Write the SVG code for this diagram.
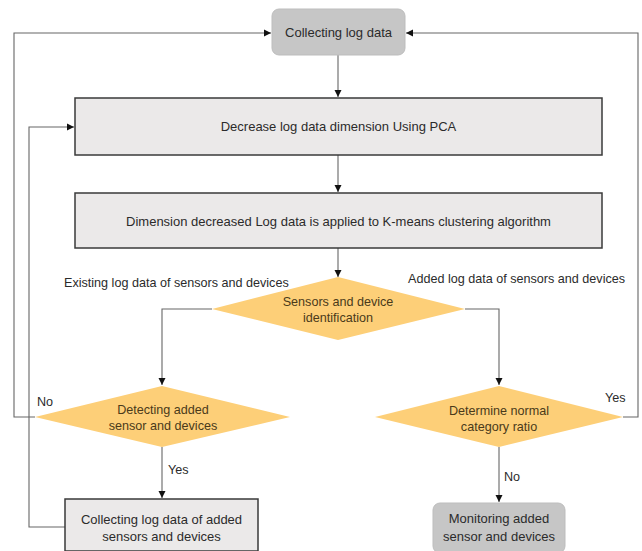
<svg xmlns="http://www.w3.org/2000/svg" width="642" height="551" viewBox="0 0 642 551">
<defs>
<marker id="arr" markerWidth="8" markerHeight="8" refX="7" refY="4" orient="auto" markerUnits="userSpaceOnUse">
<path d="M0,0.5 L7,4 L0,7.5 Z" fill="#111"/>
</marker>
<style>
text{font-family:"Liberation Sans",Arial,sans-serif;font-size:13px;fill:#2b2b2b;text-anchor:middle}
.lbl{text-anchor:start;font-size:12.6px}
.box{fill:#ebe9e9;stroke:#3a3a3a;stroke-width:1.5}
.gbox{fill:#c6c6c6;stroke:#bdbdbd;stroke-width:1}
.dia{fill:#fdcf78;stroke:none}
.dt{fill:#4a3a1a;font-size:12.6px}
.con{fill:none;stroke:#666;stroke-width:1.1}
</style>
</defs>
<rect width="642" height="551" fill="#ffffff"/>
<g id="connectors">
<path class="con" d="M338,55 V97" marker-end="url(#arr)"/>
<path class="con" d="M338,155 V192" marker-end="url(#arr)"/>
<path class="con" d="M338,248 V277" marker-end="url(#arr)"/>
<path class="con" d="M212,309 H162 V385" marker-end="url(#arr)"/>
<path class="con" d="M465,309 H499 V385" marker-end="url(#arr)"/>
<path class="con" d="M162,447 V498" marker-end="url(#arr)"/>
<path class="con" d="M499,447 V502" marker-end="url(#arr)"/>
<path class="con" d="M35,417 H14 V33 H271" marker-end="url(#arr)"/>
<path class="con" d="M623,417 H638 V33 H406" marker-end="url(#arr)"/>
<path class="con" d="M65,527 H29 V127 H74" marker-end="url(#arr)"/>
</g>
<g id="collect">
<rect class="gbox" x="272" y="9" width="133" height="46" rx="7"/>
<text x="338.5" y="37">Collecting log data</text>
</g>
<g id="pca">
<rect class="box" x="75" y="98" width="527" height="57"/>
<text x="338.5" y="131">Decrease log data dimension Using PCA</text>
</g>
<g id="kmeans">
<rect class="box" x="75" y="193" width="527" height="55"/>
<text x="338.5" y="226">Dimension decreased Log data is applied to K-means clustering algorithm</text>
</g>
<g id="identify">
<polygon class="dia" points="338,277 465,309 338,340 212,309"/>
<text class="dt" x="338" y="306">Sensors and device</text>
<text class="dt" x="338" y="322">identification</text>
</g>
<g id="detect">
<polygon class="dia" points="162,386 290,417 162,447 35,417"/>
<text class="dt" x="163" y="414">Detecting added</text>
<text class="dt" x="163" y="430">sensor and devices</text>
</g>
<g id="ratio">
<polygon class="dia" points="499,386 623,417 499,447 375,417"/>
<text class="dt" x="499" y="415">Determine normal</text>
<text class="dt" x="499" y="431">category ratio</text>
</g>
<g id="collect-added">
<rect class="box" x="65" y="499" width="193" height="52"/>
<text x="161.5" y="524">Collecting log data of added</text>
<text x="161.5" y="541">sensors and devices</text>
</g>
<g id="monitor">
<rect class="gbox" x="433" y="503" width="132" height="50" rx="7"/>
<text x="499" y="523">Monitoring added</text>
<text x="499" y="541">sensor and devices</text>
</g>
<g id="labels">
<text class="lbl" x="64" y="287">Existing log data of sensors and devices</text>
<text class="lbl" x="408" y="283">Added log data of sensors and devices</text>
<text class="lbl" x="37" y="406">No</text>
<text class="lbl" x="605" y="402">Yes</text>
<text class="lbl" x="168" y="474">Yes</text>
<text class="lbl" x="504" y="481">No</text>
</g>
</svg>
